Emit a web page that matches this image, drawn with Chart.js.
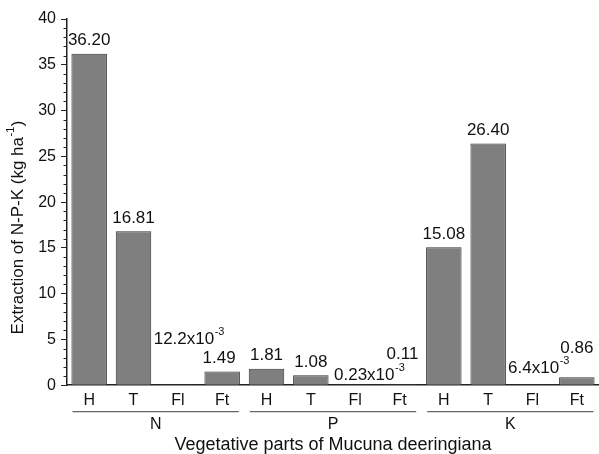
<!DOCTYPE html>
<html>
<head>
<meta charset="utf-8">
<script src="https://cdn.jsdelivr.net/npm/chart.js@4"></script>
<style>
  html, body { margin: 0; padding: 0; background: #fff; }
  #wrap { width: 599px; height: 454px; }
</style>
</head>
<body>
<div id="wrap"><canvas id="c" width="599" height="454"></canvas></div>
<script>
// Plant parts per nutrient (H, T, Fl, Ft) and nutrient groups
const parts = ['H', 'T', 'Fl', 'Ft', 'H', 'T', 'Fl', 'Ft', 'H', 'T', 'Fl', 'Ft'];
const nutrients = ['N', 'P', 'K'];
// Extraction (kg ha-1) for N, P and K
const nValues = [36.20, 16.81, 12.2e-3, 1.49];
const pValues = [1.81, 1.08, 0.23e-3, 0.11];
const kValues = [15.08, 26.40, 6.4e-3, 0.86];
const yTicks = [0, 5, 10, 15, 20, 25, 30, 35, 40];

const values = [...nValues, ...pValues, ...kValues];

// Nudges for the value labels (pixels) so small-value labels don't collide
const labelDx   = [0, 0, 11, -3, 0, 0, 14, 3, 0, 0, 6, 0];
const labelLift = [0, 0, 33, 0, 0, 0, -3, 17, 0, 0, 4, 16];

const FONT = '"Liberation Sans", Arial, sans-serif';
const INK = '#111';

// Splits a value into main text and optional power-of-ten superscript
function formatValue(v) {
  if (v < 0.1) {
    const m = parseFloat((v * 1000).toPrecision(3));
    return { main: m + 'x10', sup: '-3' };
  }
  return { main: v.toFixed(2), sup: '' };
}

function drawSupText(ctx, main, sup, cx, cy, size) {
  ctx.font = size + 'px ' + FONT;
  const w1 = ctx.measureText(main).width;
  const supSize = Math.round(size * 0.62);
  ctx.font = supSize + 'px ' + FONT;
  const w2 = sup ? ctx.measureText(sup).width : 0;
  const x0 = cx - (w1 + w2) / 2;
  ctx.textAlign = 'left';
  ctx.textBaseline = 'middle';
  ctx.font = size + 'px ' + FONT;
  ctx.fillText(main, x0, cy);
  if (sup) {
    ctx.font = supSize + 'px ' + FONT;
    ctx.fillText(sup, x0 + w1 + 0.5, cy - size * 0.42);
  }
}

const decorations = {
  id: 'decorations',
  afterDraw(chart) {
    const ctx = chart.ctx;
    const xs = chart.scales.x, ys = chart.scales.y;
    const area = chart.chartArea;
    ctx.save();
    ctx.fillStyle = INK;

    // minor ticks on the y axis
    ctx.strokeStyle = '#222';
    ctx.lineWidth = 1;
    for (let v = 0; v <= 40; v++) {
      if (v % 5 === 0) continue;
      const y = Math.round(ys.getPixelForValue(v)) + 0.5;
      ctx.beginPath();
      ctx.moveTo(area.left - 3.5, y);
      ctx.lineTo(area.left, y);
      ctx.stroke();
    }

    // value labels above each bar
    const meta = chart.getDatasetMeta(0);
    meta.data.forEach((bar, i) => {
      const f = formatValue(values[i]);
      const cy = bar.y - 13 - labelLift[i];
      drawSupText(ctx, f.main, f.sup, bar.x + labelDx[i], cy, 17);
    });

    // nutrient group lines and names under the part labels
    const half = (xs.getPixelForValue(1) - xs.getPixelForValue(0)) / 2;
    const lineY = area.bottom + 26.5;
    nutrients.forEach((name, g) => {
      const x1 = xs.getPixelForValue(g * 4) - half + 5.5;
      const x2 = Math.min(xs.getPixelForValue(g * 4 + 3) + half - 5.5, area.right - 3);
      ctx.strokeStyle = '#666';
      ctx.lineWidth = 1.2;
      ctx.beginPath();
      ctx.moveTo(x1, lineY);
      ctx.lineTo(x2, lineY);
      ctx.stroke();
      ctx.font = '16px ' + FONT;
      ctx.textAlign = 'center';
      ctx.textBaseline = 'middle';
      ctx.fillText(name, (x1 + x2) / 2, lineY + 12.5);
    });

    // y axis title with superscript
    ctx.translate(18, 228);
    ctx.rotate(-Math.PI / 2);
    const size = 17;
    ctx.font = size + 'px ' + FONT;
    const a = 'Extraction of N-P-K (kg ha', b = '-1', c = ')';
    const wa = ctx.measureText(a).width;
    const wc = ctx.measureText(c).width;
    ctx.font = '11px ' + FONT;
    const wb = ctx.measureText(b).width;
    const x = -(wa + wb + wc) / 2;
    ctx.textAlign = 'left';
    ctx.textBaseline = 'middle';
    ctx.font = size + 'px ' + FONT;
    ctx.fillText(a, x, 0);
    ctx.font = '11px ' + FONT;
    ctx.fillText(b, x + wa + 0.5, -7);
    ctx.font = size + 'px ' + FONT;
    ctx.fillText(c, x + wa + wb + 1, 0);
    ctx.restore();
  }
};

new Chart(document.getElementById('c'), {
  type: 'bar',
  data: {
    labels: parts,
    datasets: [{
      data: values,
      backgroundColor: '#7f7f7f',
      borderColor: '#333',
      borderWidth: 1,
      barPercentage: 0.8,
      categoryPercentage: 1.0
    }]
  },
  options: {
    responsive: false,
    animation: false,
    devicePixelRatio: 1,
    layout: { padding: { top: 19, right: 0, bottom: 0, left: 0 } },
    plugins: {
      legend: { display: false },
      tooltip: { enabled: false }
    },
    scales: {
      x: {
        grid: { display: false, drawTicks: false },
        border: { display: true, color: '#222', width: 1.5 },
        ticks: { color: INK, font: { family: FONT, size: 16 }, padding: 6, autoSkip: false, maxRotation: 0 },
        title: {
          display: true,
          text: 'Vegetative parts of Mucuna deeringiana',
          color: INK,
          font: { family: FONT, size: 18 },
          padding: { top: 18, bottom: -2 }
        }
      },
      y: {
        min: 0,
        max: 40,
        afterBuildTicks(scale) { scale.ticks = yTicks.map(v => ({ value: v })); },
        afterFit(scale) { scale.width = 67; },
        grid: { drawOnChartArea: false, drawTicks: true, tickLength: 6, color: '#222' },
        border: { display: true, color: '#222', width: 1.5 },
        ticks: { color: INK, font: { family: FONT, size: 16 }, padding: 5 }
      }
    }
  },
  plugins: [decorations]
});
</script>
</body>
</html>
